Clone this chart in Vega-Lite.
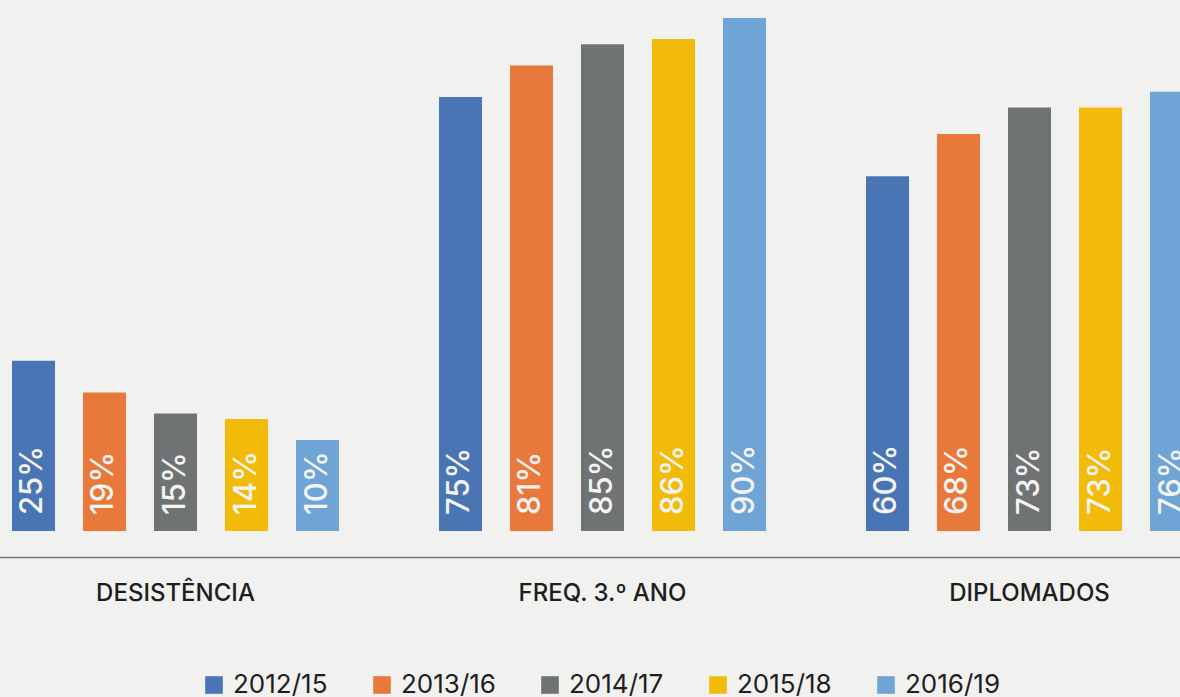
{
  "$schema": "https://vega.github.io/schema/vega-lite/v6.json",
  "width": 1180,
  "height": 531,
  "padding": {"left": 0, "top": 0, "right": 0, "bottom": 166},
  "autosize": {"type": "none"},
  "background": "#f1f1f0",
  "config": {"view": {"stroke": null}, "font": "Inter"},
  "data": {"values": [
    {"grupo": "DESISTÊNCIA", "ano": "2012/15", "valor": 0.25},
    {"grupo": "DESISTÊNCIA", "ano": "2013/16", "valor": 0.19},
    {"grupo": "DESISTÊNCIA", "ano": "2014/17", "valor": 0.15},
    {"grupo": "DESISTÊNCIA", "ano": "2015/18", "valor": 0.14},
    {"grupo": "DESISTÊNCIA", "ano": "2016/19", "valor": 0.10},
    {"grupo": "FREQ. 3.º ANO", "ano": "2012/15", "valor": 0.75},
    {"grupo": "FREQ. 3.º ANO", "ano": "2013/16", "valor": 0.81},
    {"grupo": "FREQ. 3.º ANO", "ano": "2014/17", "valor": 0.85},
    {"grupo": "FREQ. 3.º ANO", "ano": "2015/18", "valor": 0.86},
    {"grupo": "FREQ. 3.º ANO", "ano": "2016/19", "valor": 0.90},
    {"grupo": "DIPLOMADOS", "ano": "2012/15", "valor": 0.60},
    {"grupo": "DIPLOMADOS", "ano": "2013/16", "valor": 0.68},
    {"grupo": "DIPLOMADOS", "ano": "2014/17", "valor": 0.73},
    {"grupo": "DIPLOMADOS", "ano": "2015/18", "valor": 0.73},
    {"grupo": "DIPLOMADOS", "ano": "2016/19", "valor": 0.76}
  ]},
  "encoding": {
    "x": {
      "field": "grupo", "type": "nominal", "sort": null,
      "scale": {"range": [-38, 1243], "paddingInner": 0, "paddingOuter": 0},
      "axis": {
        "title": null, "orient": "bottom", "offset": 26, "ticks": false,
        "labelAngle": 0, "labelPadding": 24, "labelFontSize": 24, "labelFontWeight": 500,
        "labelColor": "#1e1e1e", "labelFont": "Inter",
        "domainColor": "#777777", "domainWidth": 1.5
      }
    },
    "xOffset": {
      "field": "ano", "type": "nominal", "sort": null,
      "scale": {"paddingInner": 0.394, "paddingOuter": 0.704}
    },
    "y": {
      "field": "valor", "type": "quantitative",
      "scale": {"domain": [-0.0725, 0.934], "zero": false, "nice": false},
      "axis": null
    }
  },
  "layer": [
    {
      "mark": {"type": "bar"},
      "encoding": {
        "y2": {"datum": -0.0725},
        "color": {
          "field": "ano", "type": "nominal", "sort": null,
          "scale": {
            "domain": ["2012/15", "2013/16", "2014/17", "2015/18", "2016/19"],
            "range": ["#4a75b5", "#e9783b", "#707373", "#f2bb0a", "#6fa5d6"]
          },
          "legend": {
            "title": null, "orient": "none", "direction": "horizontal",
            "legendX": 201, "legendY": 672, "padding": 0,
            "symbolType": "square", "symbolSize": 310, "symbolStrokeWidth": 0,
            "symbolOpacity": 1,
            "labelFontSize": 26, "labelFont": "Inter", "labelColor": "#1e1e1e",
            "labelOffset": 6, "columnPadding": 41
          }
        }
      }
    },
    {
      "mark": {
        "type": "text", "angle": 270, "align": "left", "baseline": "middle",
        "dx": 16, "fontSize": 31, "fontWeight": 500, "color": "#f4f4f4", "font": "Inter"
      },
      "encoding": {
        "y": {"datum": -0.0725},
        "text": {"field": "valor", "type": "quantitative", "format": ".0%"}
      }
    }
  ]
}
